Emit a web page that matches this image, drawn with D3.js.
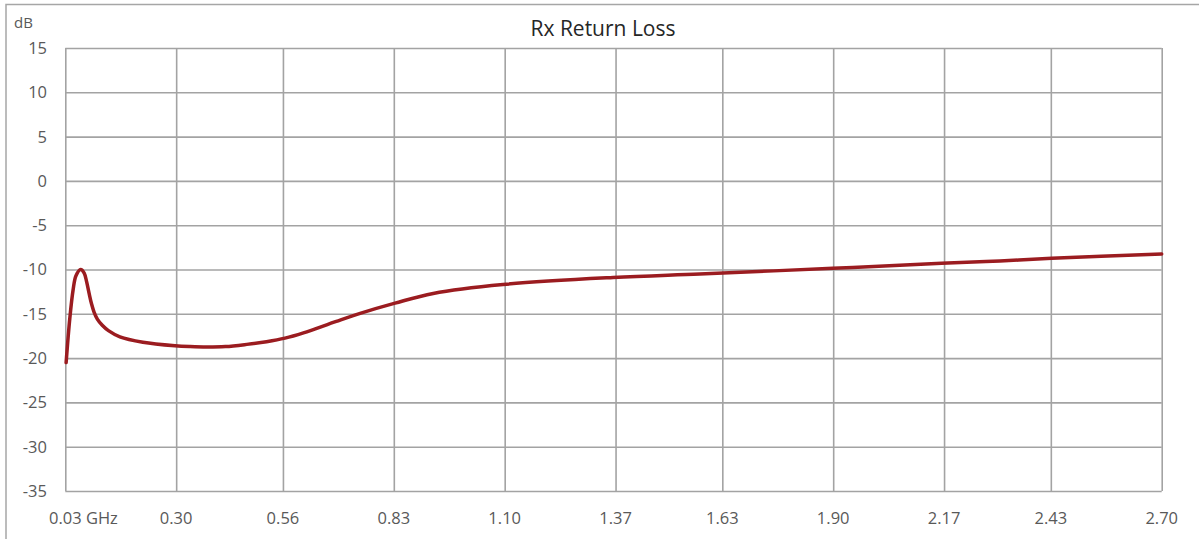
<!DOCTYPE html>
<html><head><meta charset="utf-8">
<script src="https://cdn.jsdelivr.net/npm/d3@7"></script>
<style>
html,body{margin:0;padding:0;background:#fff;}
svg{display:block;}
</style></head>
<body>
<svg id="chart" width="1199" height="539"></svg>
<script>
// Data (frequency in GHz, return loss in dB)
const freqGHz = [0.032, 0.041, 0.049, 0.056, 0.0675, 0.076, 0.082, 0.088, 0.094, 0.100, 0.108, 0.120, 0.135, 0.163, 0.219, 0.297, 0.334, 0.374, 0.420, 0.472, 0.520, 0.565, 0.610, 0.690, 0.748, 0.833, 0.926, 1.096, 1.364, 1.575, 1.899, 2.164, 2.306, 2.432, 2.70];
const lossDB  = [-20.5, -15.5, -12.3, -10.7, -10.0, -10.4, -11.4, -12.7, -13.9, -14.8, -15.6, -16.3, -16.9, -17.6, -18.2, -18.6, -18.7, -18.75, -18.7, -18.45, -18.15, -17.75, -17.15, -15.85, -14.95, -13.8, -12.7, -11.7, -10.9, -10.5, -9.87, -9.3, -9.04, -8.74, -8.25];
const xTickValues = [0.03, 0.30, 0.56, 0.83, 1.10, 1.37, 1.63, 1.90, 2.17, 2.43, 2.70];
const xTickLabels = ["0.03", "0.30", "0.56", "0.83", "1.10", "1.37", "1.63", "1.90", "2.17", "2.43", "2.70"];
const yTickValues = [15, 10, 5, 0, -5, -10, -15, -20, -25, -30, -35];
const titleText = "Rx Return Loss";
const yUnit = "dB";
const xUnit = "GHz";

const svg = d3.select("#chart");
const m = {left: 65.3, right: 1161.7, top: 48, bottom: 491};
const x = d3.scaleLinear().domain([0.03, 2.70]).range([m.left, m.right]);
const y = d3.scaleLinear().domain([-35, 15]).range([m.bottom, m.top]);
const gridColor = "#a3a3a3";
const textColor = "#595959";
const font = "'Open Sans', 'Liberation Sans', sans-serif";

// outer frame
svg.append("rect").attr("x", 6).attr("y", 4.5).attr("width", 1210).attr("height", 560)
  .attr("fill", "none").attr("stroke", "#a6a6a6").attr("stroke-width", 1.5);

// title
svg.append("text").attr("x", 603).attr("y", 36).attr("text-anchor", "middle")
  .attr("font-family", font).attr("font-size", 21).attr("fill", "#262626").text(titleText);

// y unit
svg.append("text").attr("x", 14).attr("y", 28).attr("font-family", font)
  .attr("font-size", 15).attr("fill", textColor).text(yUnit);

// grid
const gx = svg.append("g").attr("transform", `translate(0,${m.bottom})`)
  .call(d3.axisBottom(x).tickValues(xTickValues).tickSize(-(m.bottom - m.top)).tickFormat(""));
const gy = svg.append("g").attr("transform", `translate(${m.left},0)`)
  .call(d3.axisLeft(y).tickValues(yTickValues).tickSize(-(m.right - m.left)).tickFormat(""));
[gx, gy].forEach(g => {
  g.select(".domain").remove();
  g.selectAll("line").attr("stroke", gridColor).attr("stroke-width", 1.6);
});

// y labels
svg.append("g").selectAll("text").data(yTickValues).join("text")
  .attr("x", 47).attr("y", d => y(d)).attr("dy", "0.36em").attr("text-anchor", "end")
  .attr("font-family", font).attr("font-size", 16.5).attr("fill", textColor)
  .text(d => d);

// x labels
const xl = svg.append("g").selectAll("text").data(xTickValues).join("text")
  .attr("x", d => x(d)).attr("y", 524).attr("text-anchor", "middle")
  .attr("font-family", font).attr("font-size", 16.5).attr("fill", textColor)
  .text((d, i) => xTickLabels[i]);
// first label carries the unit, number remains centred on its tick
xl.filter((d, i) => i === 0).each(function(d) {
  const t = d3.select(this);
  const w = this.getComputedTextLength();
  t.attr("text-anchor", "start").attr("x", x(d) - w / 2);
  t.append("tspan").text(" " + xUnit);
});

// line
const pts = freqGHz.map((f, i) => [f, lossDB[i]]);
svg.append("path").datum(pts)
  .attr("fill", "none").attr("stroke", "#9b1c20").attr("stroke-width", 3.5)
  .attr("stroke-linejoin", "round").attr("stroke-linecap", "round")
  .attr("d", d3.line().x(d => x(d[0])).y(d => y(d[1])).curve(d3.curveCatmullRom.alpha(0.5)));
</script>
</body></html>
